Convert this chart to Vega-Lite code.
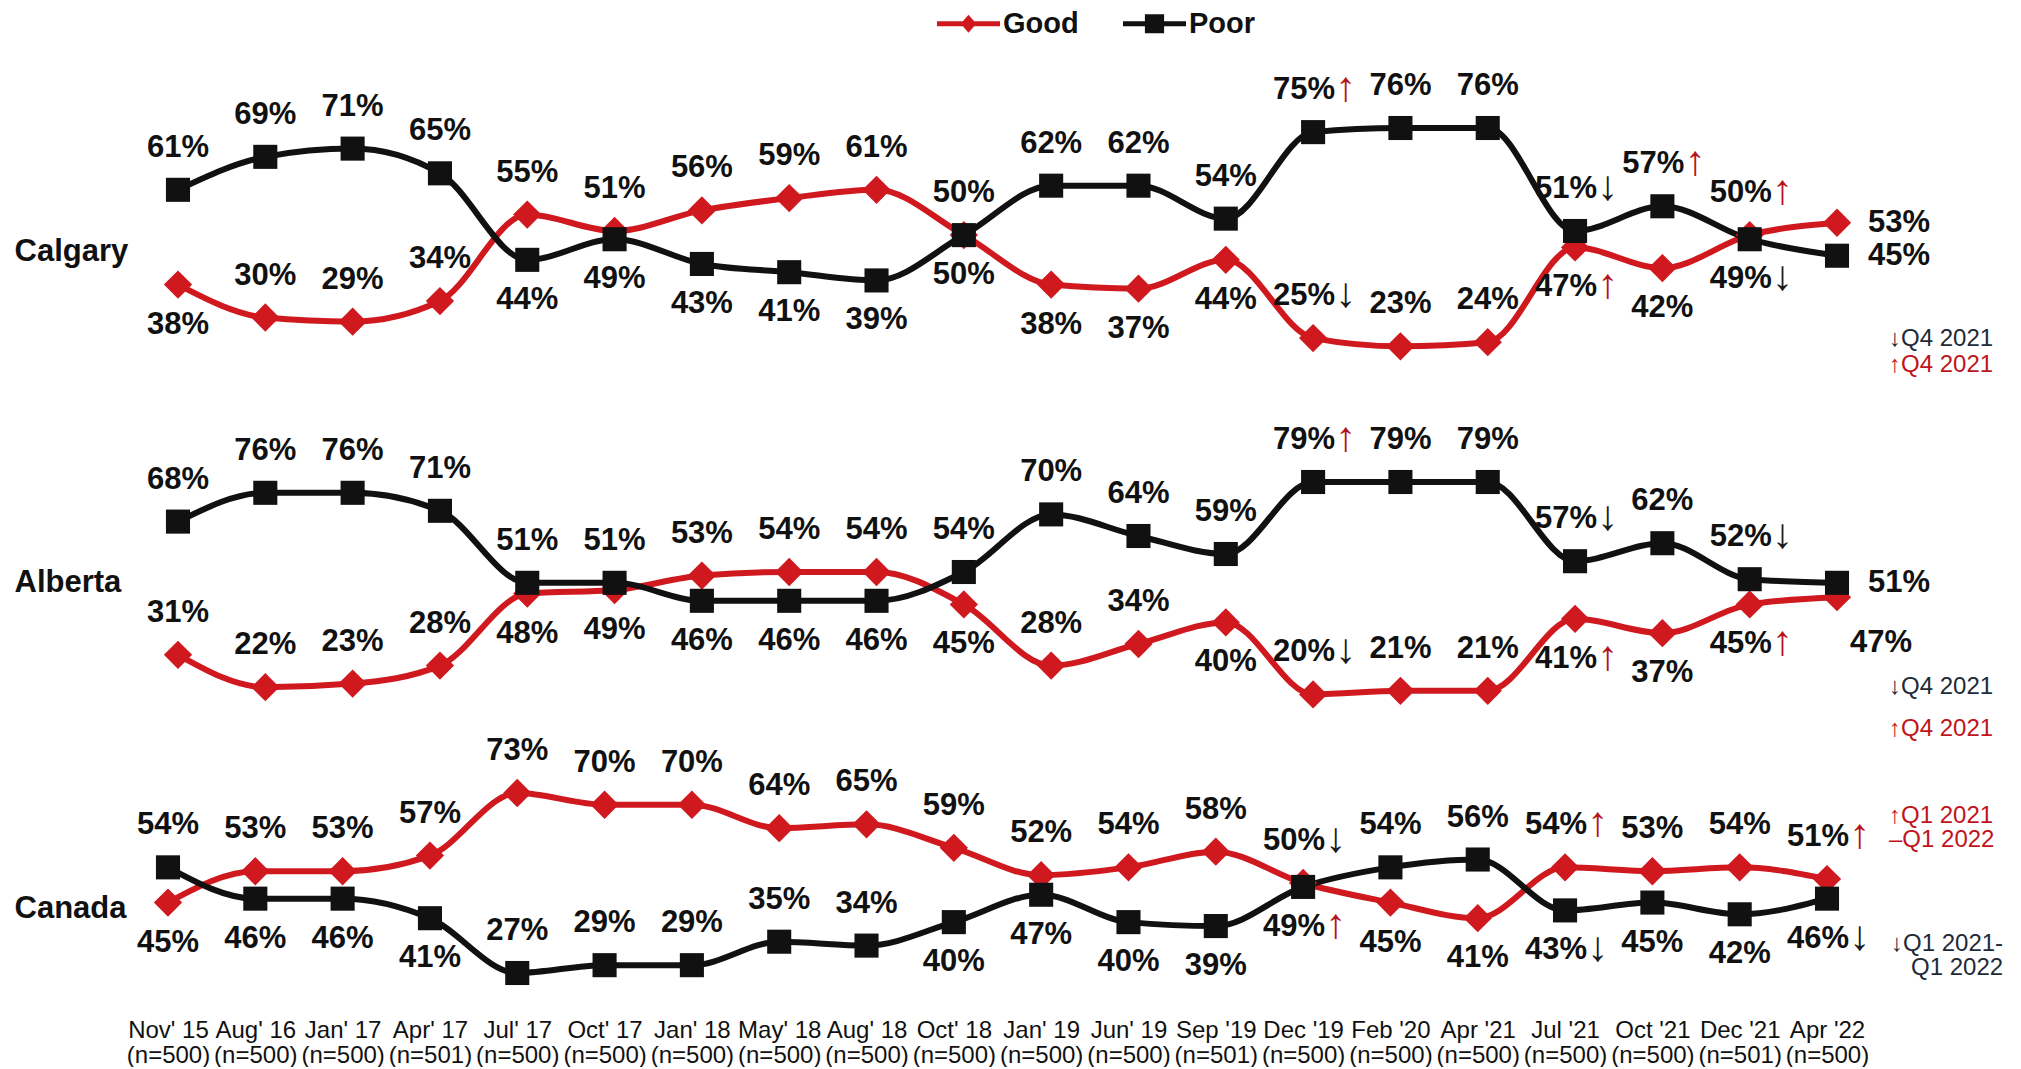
{
  "$schema": "https://vega.github.io/schema/vega-lite/v6.json",
  "padding": {"left": 14, "top": 9, "right": 5, "bottom": 0},
  "background": "white",
  "spacing": 0,
  "bounds": "flush",
  "config": {"view": {"stroke": null}, "font": "Liberation Sans"},
  "resolve": {"scale": {"x": "independent", "y": "independent"}},
  "data": {"values": [
    {"panel":"Calgary","wave":"Nov' 15 (n=500)","series":"Good","value":38},
    {"panel":"Calgary","wave":"Nov' 15 (n=500)","series":"Poor","value":61},
    {"panel":"Calgary","wave":"Aug' 16 (n=500)","series":"Good","value":30},
    {"panel":"Calgary","wave":"Aug' 16 (n=500)","series":"Poor","value":69},
    {"panel":"Calgary","wave":"Jan' 17 (n=500)","series":"Good","value":29},
    {"panel":"Calgary","wave":"Jan' 17 (n=500)","series":"Poor","value":71},
    {"panel":"Calgary","wave":"Apr' 17 (n=501)","series":"Good","value":34},
    {"panel":"Calgary","wave":"Apr' 17 (n=501)","series":"Poor","value":65},
    {"panel":"Calgary","wave":"Jul' 17 (n=500)","series":"Good","value":55},
    {"panel":"Calgary","wave":"Jul' 17 (n=500)","series":"Poor","value":44},
    {"panel":"Calgary","wave":"Oct' 17 (n=500)","series":"Good","value":51},
    {"panel":"Calgary","wave":"Oct' 17 (n=500)","series":"Poor","value":49},
    {"panel":"Calgary","wave":"Jan' 18 (n=500)","series":"Good","value":56},
    {"panel":"Calgary","wave":"Jan' 18 (n=500)","series":"Poor","value":43},
    {"panel":"Calgary","wave":"May' 18 (n=500)","series":"Good","value":59},
    {"panel":"Calgary","wave":"May' 18 (n=500)","series":"Poor","value":41},
    {"panel":"Calgary","wave":"Aug' 18 (n=500)","series":"Good","value":61},
    {"panel":"Calgary","wave":"Aug' 18 (n=500)","series":"Poor","value":39},
    {"panel":"Calgary","wave":"Oct' 18 (n=500)","series":"Good","value":50},
    {"panel":"Calgary","wave":"Oct' 18 (n=500)","series":"Poor","value":50},
    {"panel":"Calgary","wave":"Jan' 19 (n=500)","series":"Good","value":38},
    {"panel":"Calgary","wave":"Jan' 19 (n=500)","series":"Poor","value":62},
    {"panel":"Calgary","wave":"Jun' 19 (n=500)","series":"Good","value":37},
    {"panel":"Calgary","wave":"Jun' 19 (n=500)","series":"Poor","value":62},
    {"panel":"Calgary","wave":"Sep '19 (n=501)","series":"Good","value":44},
    {"panel":"Calgary","wave":"Sep '19 (n=501)","series":"Poor","value":54},
    {"panel":"Calgary","wave":"Dec '19 (n=500)","series":"Good","value":25,"sig":"↓"},
    {"panel":"Calgary","wave":"Dec '19 (n=500)","series":"Poor","value":75,"sig":"↑"},
    {"panel":"Calgary","wave":"Feb '20 (n=500)","series":"Good","value":23},
    {"panel":"Calgary","wave":"Feb '20 (n=500)","series":"Poor","value":76},
    {"panel":"Calgary","wave":"Apr '21 (n=500)","series":"Good","value":24},
    {"panel":"Calgary","wave":"Apr '21 (n=500)","series":"Poor","value":76},
    {"panel":"Calgary","wave":"Jul '21 (n=500)","series":"Good","value":47,"sig":"↑"},
    {"panel":"Calgary","wave":"Jul '21 (n=500)","series":"Poor","value":51,"sig":"↓"},
    {"panel":"Calgary","wave":"Oct '21 (n=500)","series":"Good","value":42},
    {"panel":"Calgary","wave":"Oct '21 (n=500)","series":"Poor","value":57,"sig":"↑"},
    {"panel":"Calgary","wave":"Dec '21 (n=501)","series":"Good","value":50,"sig":"↑"},
    {"panel":"Calgary","wave":"Dec '21 (n=501)","series":"Poor","value":49,"sig":"↓"},
    {"panel":"Calgary","wave":"Apr '22 (n=500)","series":"Good","value":53},
    {"panel":"Calgary","wave":"Apr '22 (n=500)","series":"Poor","value":45},
    {"panel":"Alberta","wave":"Nov' 15 (n=500)","series":"Good","value":31},
    {"panel":"Alberta","wave":"Nov' 15 (n=500)","series":"Poor","value":68},
    {"panel":"Alberta","wave":"Aug' 16 (n=500)","series":"Good","value":22},
    {"panel":"Alberta","wave":"Aug' 16 (n=500)","series":"Poor","value":76},
    {"panel":"Alberta","wave":"Jan' 17 (n=500)","series":"Good","value":23},
    {"panel":"Alberta","wave":"Jan' 17 (n=500)","series":"Poor","value":76},
    {"panel":"Alberta","wave":"Apr' 17 (n=501)","series":"Good","value":28},
    {"panel":"Alberta","wave":"Apr' 17 (n=501)","series":"Poor","value":71},
    {"panel":"Alberta","wave":"Jul' 17 (n=500)","series":"Good","value":48},
    {"panel":"Alberta","wave":"Jul' 17 (n=500)","series":"Poor","value":51},
    {"panel":"Alberta","wave":"Oct' 17 (n=500)","series":"Good","value":49},
    {"panel":"Alberta","wave":"Oct' 17 (n=500)","series":"Poor","value":51},
    {"panel":"Alberta","wave":"Jan' 18 (n=500)","series":"Good","value":53},
    {"panel":"Alberta","wave":"Jan' 18 (n=500)","series":"Poor","value":46},
    {"panel":"Alberta","wave":"May' 18 (n=500)","series":"Good","value":54},
    {"panel":"Alberta","wave":"May' 18 (n=500)","series":"Poor","value":46},
    {"panel":"Alberta","wave":"Aug' 18 (n=500)","series":"Good","value":54},
    {"panel":"Alberta","wave":"Aug' 18 (n=500)","series":"Poor","value":46},
    {"panel":"Alberta","wave":"Oct' 18 (n=500)","series":"Good","value":45},
    {"panel":"Alberta","wave":"Oct' 18 (n=500)","series":"Poor","value":54},
    {"panel":"Alberta","wave":"Jan' 19 (n=500)","series":"Good","value":28},
    {"panel":"Alberta","wave":"Jan' 19 (n=500)","series":"Poor","value":70},
    {"panel":"Alberta","wave":"Jun' 19 (n=500)","series":"Good","value":34},
    {"panel":"Alberta","wave":"Jun' 19 (n=500)","series":"Poor","value":64},
    {"panel":"Alberta","wave":"Sep '19 (n=501)","series":"Good","value":40},
    {"panel":"Alberta","wave":"Sep '19 (n=501)","series":"Poor","value":59},
    {"panel":"Alberta","wave":"Dec '19 (n=500)","series":"Good","value":20,"sig":"↓"},
    {"panel":"Alberta","wave":"Dec '19 (n=500)","series":"Poor","value":79,"sig":"↑"},
    {"panel":"Alberta","wave":"Feb '20 (n=500)","series":"Good","value":21},
    {"panel":"Alberta","wave":"Feb '20 (n=500)","series":"Poor","value":79},
    {"panel":"Alberta","wave":"Apr '21 (n=500)","series":"Good","value":21},
    {"panel":"Alberta","wave":"Apr '21 (n=500)","series":"Poor","value":79},
    {"panel":"Alberta","wave":"Jul '21 (n=500)","series":"Good","value":41,"sig":"↑"},
    {"panel":"Alberta","wave":"Jul '21 (n=500)","series":"Poor","value":57,"sig":"↓"},
    {"panel":"Alberta","wave":"Oct '21 (n=500)","series":"Good","value":37},
    {"panel":"Alberta","wave":"Oct '21 (n=500)","series":"Poor","value":62},
    {"panel":"Alberta","wave":"Dec '21 (n=501)","series":"Good","value":45,"sig":"↑"},
    {"panel":"Alberta","wave":"Dec '21 (n=501)","series":"Poor","value":52,"sig":"↓"},
    {"panel":"Alberta","wave":"Apr '22 (n=500)","series":"Good","value":47},
    {"panel":"Alberta","wave":"Apr '22 (n=500)","series":"Poor","value":51},
    {"panel":"Canada","wave":"Nov' 15 (n=500)","series":"Good","value":45},
    {"panel":"Canada","wave":"Nov' 15 (n=500)","series":"Poor","value":54},
    {"panel":"Canada","wave":"Aug' 16 (n=500)","series":"Good","value":53},
    {"panel":"Canada","wave":"Aug' 16 (n=500)","series":"Poor","value":46},
    {"panel":"Canada","wave":"Jan' 17 (n=500)","series":"Good","value":53},
    {"panel":"Canada","wave":"Jan' 17 (n=500)","series":"Poor","value":46},
    {"panel":"Canada","wave":"Apr' 17 (n=501)","series":"Good","value":57},
    {"panel":"Canada","wave":"Apr' 17 (n=501)","series":"Poor","value":41},
    {"panel":"Canada","wave":"Jul' 17 (n=500)","series":"Good","value":73},
    {"panel":"Canada","wave":"Jul' 17 (n=500)","series":"Poor","value":27},
    {"panel":"Canada","wave":"Oct' 17 (n=500)","series":"Good","value":70},
    {"panel":"Canada","wave":"Oct' 17 (n=500)","series":"Poor","value":29},
    {"panel":"Canada","wave":"Jan' 18 (n=500)","series":"Good","value":70},
    {"panel":"Canada","wave":"Jan' 18 (n=500)","series":"Poor","value":29},
    {"panel":"Canada","wave":"May' 18 (n=500)","series":"Good","value":64},
    {"panel":"Canada","wave":"May' 18 (n=500)","series":"Poor","value":35},
    {"panel":"Canada","wave":"Aug' 18 (n=500)","series":"Good","value":65},
    {"panel":"Canada","wave":"Aug' 18 (n=500)","series":"Poor","value":34},
    {"panel":"Canada","wave":"Oct' 18 (n=500)","series":"Good","value":59},
    {"panel":"Canada","wave":"Oct' 18 (n=500)","series":"Poor","value":40},
    {"panel":"Canada","wave":"Jan' 19 (n=500)","series":"Good","value":52},
    {"panel":"Canada","wave":"Jan' 19 (n=500)","series":"Poor","value":47},
    {"panel":"Canada","wave":"Jun' 19 (n=500)","series":"Good","value":54},
    {"panel":"Canada","wave":"Jun' 19 (n=500)","series":"Poor","value":40},
    {"panel":"Canada","wave":"Sep '19 (n=501)","series":"Good","value":58},
    {"panel":"Canada","wave":"Sep '19 (n=501)","series":"Poor","value":39},
    {"panel":"Canada","wave":"Dec '19 (n=500)","series":"Good","value":50,"sig":"↓"},
    {"panel":"Canada","wave":"Dec '19 (n=500)","series":"Poor","value":49,"sig":"↑"},
    {"panel":"Canada","wave":"Feb '20 (n=500)","series":"Good","value":45},
    {"panel":"Canada","wave":"Feb '20 (n=500)","series":"Poor","value":54},
    {"panel":"Canada","wave":"Apr '21 (n=500)","series":"Good","value":41},
    {"panel":"Canada","wave":"Apr '21 (n=500)","series":"Poor","value":56},
    {"panel":"Canada","wave":"Jul '21 (n=500)","series":"Good","value":54,"sig":"↑"},
    {"panel":"Canada","wave":"Jul '21 (n=500)","series":"Poor","value":43,"sig":"↓"},
    {"panel":"Canada","wave":"Oct '21 (n=500)","series":"Good","value":53},
    {"panel":"Canada","wave":"Oct '21 (n=500)","series":"Poor","value":45},
    {"panel":"Canada","wave":"Dec '21 (n=501)","series":"Good","value":54},
    {"panel":"Canada","wave":"Dec '21 (n=501)","series":"Poor","value":42},
    {"panel":"Canada","wave":"Apr '22 (n=500)","series":"Good","value":51,"sig":"↑"},
    {"panel":"Canada","wave":"Apr '22 (n=500)","series":"Poor","value":46,"sig":"↓"}
  ]},
  "transform": [
    {"joinaggregate": [{"op": "max", "field": "value", "as": "vmax"}, {"op": "min", "field": "value", "as": "vmin"}], "groupby": ["panel", "wave"]},
    {"window": [{"op": "row_number", "as": "rk"}], "sort": [{"field": "value", "order": "descending"}], "groupby": ["panel", "wave"]},
    {"calculate": "datum.value + '%'", "as": "lbl"},
    {"calculate": "datum.wave === \"Apr '22 (n=500)\"", "as": "last"},
    {"calculate": "datum.sig ? true : false", "as": "hasSig"},
    {"calculate": "(datum.last && datum.panel !== 'Canada') ? ((datum.rk === 1 || datum.vmax - datum.vmin >= 6) ? 'right' : 'belowright') : ((datum.rk === 1 || datum.vmax - datum.vmin >= 28) ? 'above' : 'below')", "as": "place"}
  ],
  "vconcat": [
    {
      "width": 1739, "height": 340,
      "transform": [{"filter": "datum.panel === 'Calgary'"}],
      "encoding": {
        "x": {"field": "wave", "type": "nominal", "scale": {"type": "point", "padding": 0.458, "domain": ["Nov' 15 (n=500)","Aug' 16 (n=500)","Jan' 17 (n=500)","Apr' 17 (n=501)","Jul' 17 (n=500)","Oct' 17 (n=500)","Jan' 18 (n=500)","May' 18 (n=500)","Aug' 18 (n=500)","Oct' 18 (n=500)","Jan' 19 (n=500)","Jun' 19 (n=500)","Sep '19 (n=501)","Dec '19 (n=500)","Feb '20 (n=500)","Apr '21 (n=500)","Jul '21 (n=500)","Oct '21 (n=500)","Dec '21 (n=501)","Apr '22 (n=500)"]}, "axis": null},
        "y": {"field": "value", "type": "quantitative", "scale": {"domain": [7.55, 90.08], "nice": false, "zero": false},
          "axis": {"title": "Calgary", "titleAngle": 0, "titleAlign": "left", "titleBaseline": "middle", "titleX": -124, "titleY": 181, "titleFont": "Liberation Sans", "titleFontSize": 31, "titleFontWeight": "bold", "titleColor": "#111111", "labels": false, "ticks": false, "domain": false, "grid": false}}
      },
      "layer": [
        {"transform": [{"filter": "datum.rk === 99"}], "mark": {"type": "point", "filled": true, "opacity": 1, "strokeWidth": 0},
         "encoding": {
           "color": {"field": "series", "type": "nominal", "scale": {"domain": ["Good", "Poor"], "range": ["#d0191f", "#111111"]},
             "legend": {"title": null, "orient": "none", "legendX": 816, "legendY": -61, "direction": "horizontal", "padding": 0, "offset": 0,
               "labelFont": "Liberation Sans", "labelFontSize": 29, "labelFontWeight": "bold", "labelColor": "#111111", "labelOffset": 20, "columnPadding": 44, "symbolSize": 144, "symbolStrokeWidth": 0}},
           "shape": {"field": "series", "type": "nominal", "scale": {"domain": ["Good", "Poor"], "range": ["M-5.25,-0.42 L-0.94,-0.42 L0,-1.5 L0.94,-0.42 L5.25,-0.42 L5.25,0.42 L0.94,0.42 L0,1.5 L-0.94,0.42 L-5.25,0.42 Z", "M-5.25,-0.42 L-1.6,-0.42 L-1.6,-1.6 L1.6,-1.6 L1.6,-0.42 L5.25,-0.42 L5.25,0.42 L1.6,0.42 L1.6,1.6 L-1.6,1.6 L-1.6,0.42 L-5.25,0.42 Z"]}}}},
        {"mark": {"type": "line", "interpolate": "monotone", "strokeWidth": 6},
         "encoding": {"detail": {"field": "series"}, "color": {"condition": {"test": "datum.series === 'Good'", "value": "#d0191f"}, "value": "#111111"}}},
        {"mark": {"type": "point", "filled": true, "opacity": 1},
         "encoding": {
           "color": {"condition": {"test": "datum.series === 'Good'", "value": "#d0191f"}, "value": "#111111"},
           "shape": {"condition": {"test": "datum.series === 'Good'", "value": "diamond"}, "value": "square"},
           "size": {"condition": {"test": "datum.series === 'Good'", "value": 800}, "value": 580}}},
        {"transform": [{"filter": "datum.place === 'above' && !datum.hasSig"}], "mark": {"type": "text", "fontSize": 31, "fontWeight": "bold", "color": "#111111", "align": "center", "baseline": "alphabetic", "dy": -33}, "encoding": {"text": {"field": "lbl"}}},
        {"transform": [{"filter": "datum.place === 'above' && datum.hasSig"}], "mark": {"type": "text", "fontSize": 31, "fontWeight": "bold", "color": "#111111", "align": "center", "baseline": "alphabetic", "dy": -33, "dx": -9}, "encoding": {"text": {"field": "lbl"}}},
        {"transform": [{"filter": "datum.place === 'below' && !datum.hasSig"}], "mark": {"type": "text", "fontSize": 31, "fontWeight": "bold", "color": "#111111", "align": "center", "baseline": "alphabetic", "dy": 49}, "encoding": {"text": {"field": "lbl"}}},
        {"transform": [{"filter": "datum.place === 'below' && datum.hasSig"}], "mark": {"type": "text", "fontSize": 31, "fontWeight": "bold", "color": "#111111", "align": "center", "baseline": "alphabetic", "dy": 49, "dx": -9}, "encoding": {"text": {"field": "lbl"}}},
        {"transform": [{"filter": "datum.place === 'right'"}], "mark": {"type": "text", "fontSize": 31, "fontWeight": "bold", "color": "#111111", "align": "left", "baseline": "middle", "dx": 31}, "encoding": {"text": {"field": "lbl"}}},
        {"transform": [{"filter": "datum.place === 'belowright'"}], "mark": {"type": "text", "fontSize": 31, "fontWeight": "bold", "color": "#111111", "align": "left", "baseline": "middle", "dx": 13, "dy": 46}, "encoding": {"text": {"field": "lbl"}}},
        {"transform": [{"filter": "datum.hasSig && datum.place === 'above'"}], "mark": {"type": "text", "fontSize": 42, "align": "left", "baseline": "alphabetic", "dx": 22, "dy": -31}, "encoding": {"text": {"field": "sig"}, "color": {"condition": {"test": "datum.sig === '↑'", "value": "#b5121b"}, "value": "#1a1a1a"}}},
        {"transform": [{"filter": "datum.hasSig && datum.place === 'below'"}], "mark": {"type": "text", "fontSize": 42, "align": "left", "baseline": "alphabetic", "dx": 22, "dy": 51}, "encoding": {"text": {"field": "sig"}, "color": {"condition": {"test": "datum.sig === '↑'", "value": "#b5121b"}, "value": "#1a1a1a"}}},
        {"transform": [{"filter": "datum.last && datum.rk === 1"}], "mark": {"type": "text", "text": "↓Q4 2021", "fontSize": 24, "align": "left", "baseline": "middle", "dx": 52, "color": "#1e2a36"}, "encoding": {"y": {"datum": 24.8}}},
        {"transform": [{"filter": "datum.last && datum.rk === 1"}], "mark": {"type": "text", "text": "↑Q4 2021", "fontSize": 24, "align": "left", "baseline": "middle", "dx": 52, "color": "#c0141c"}, "encoding": {"y": {"datum": 18.4}}}
      ]
    },
    {
      "width": 1739, "height": 340,
      "transform": [{"filter": "datum.panel === 'Alberta'"}],
      "encoding": {
        "x": {"field": "wave", "type": "nominal", "scale": {"type": "point", "padding": 0.458, "domain": ["Nov' 15 (n=500)","Aug' 16 (n=500)","Jan' 17 (n=500)","Apr' 17 (n=501)","Jul' 17 (n=500)","Oct' 17 (n=500)","Jan' 18 (n=500)","May' 18 (n=500)","Aug' 18 (n=500)","Oct' 18 (n=500)","Jan' 19 (n=500)","Jun' 19 (n=500)","Sep '19 (n=501)","Dec '19 (n=500)","Feb '20 (n=500)","Apr '21 (n=500)","Jul '21 (n=500)","Oct '21 (n=500)","Dec '21 (n=501)","Apr '22 (n=500)"]}, "axis": null},
        "y": {"field": "value", "type": "quantitative", "scale": {"domain": [4.56, 99], "nice": false, "zero": false},
          "axis": {"title": "Alberta", "titleAngle": 0, "titleAlign": "left", "titleBaseline": "middle", "titleX": -124, "titleY": 172, "titleFont": "Liberation Sans", "titleFontSize": 31, "titleFontWeight": "bold", "titleColor": "#111111", "labels": false, "ticks": false, "domain": false, "grid": false}}
      },
      "layer": [
        {"mark": {"type": "line", "interpolate": "monotone", "strokeWidth": 6},
         "encoding": {"detail": {"field": "series"}, "color": {"condition": {"test": "datum.series === 'Good'", "value": "#d0191f"}, "value": "#111111"}}},
        {"mark": {"type": "point", "filled": true, "opacity": 1},
         "encoding": {
           "color": {"condition": {"test": "datum.series === 'Good'", "value": "#d0191f"}, "value": "#111111"},
           "shape": {"condition": {"test": "datum.series === 'Good'", "value": "diamond"}, "value": "square"},
           "size": {"condition": {"test": "datum.series === 'Good'", "value": 800}, "value": 580}}},
        {"transform": [{"filter": "datum.place === 'above' && !datum.hasSig"}], "mark": {"type": "text", "fontSize": 31, "fontWeight": "bold", "color": "#111111", "align": "center", "baseline": "alphabetic", "dy": -33}, "encoding": {"text": {"field": "lbl"}}},
        {"transform": [{"filter": "datum.place === 'above' && datum.hasSig"}], "mark": {"type": "text", "fontSize": 31, "fontWeight": "bold", "color": "#111111", "align": "center", "baseline": "alphabetic", "dy": -33, "dx": -9}, "encoding": {"text": {"field": "lbl"}}},
        {"transform": [{"filter": "datum.place === 'below' && !datum.hasSig"}], "mark": {"type": "text", "fontSize": 31, "fontWeight": "bold", "color": "#111111", "align": "center", "baseline": "alphabetic", "dy": 49}, "encoding": {"text": {"field": "lbl"}}},
        {"transform": [{"filter": "datum.place === 'below' && datum.hasSig"}], "mark": {"type": "text", "fontSize": 31, "fontWeight": "bold", "color": "#111111", "align": "center", "baseline": "alphabetic", "dy": 49, "dx": -9}, "encoding": {"text": {"field": "lbl"}}},
        {"transform": [{"filter": "datum.place === 'right'"}], "mark": {"type": "text", "fontSize": 31, "fontWeight": "bold", "color": "#111111", "align": "left", "baseline": "middle", "dx": 31}, "encoding": {"text": {"field": "lbl"}}},
        {"transform": [{"filter": "datum.place === 'belowright'"}], "mark": {"type": "text", "fontSize": 31, "fontWeight": "bold", "color": "#111111", "align": "left", "baseline": "middle", "dx": 13, "dy": 46}, "encoding": {"text": {"field": "lbl"}}},
        {"transform": [{"filter": "datum.hasSig && datum.place === 'above'"}], "mark": {"type": "text", "fontSize": 42, "align": "left", "baseline": "alphabetic", "dx": 22, "dy": -31}, "encoding": {"text": {"field": "sig"}, "color": {"condition": {"test": "datum.sig === '↑'", "value": "#b5121b"}, "value": "#1a1a1a"}}},
        {"transform": [{"filter": "datum.hasSig && datum.place === 'below'"}], "mark": {"type": "text", "fontSize": 42, "align": "left", "baseline": "alphabetic", "dx": 22, "dy": 51}, "encoding": {"text": {"field": "sig"}, "color": {"condition": {"test": "datum.sig === '↑'", "value": "#b5121b"}, "value": "#1a1a1a"}}},
        {"transform": [{"filter": "datum.last && datum.rk === 1"}], "mark": {"type": "text", "text": "↓Q4 2021", "fontSize": 24, "align": "left", "baseline": "middle", "dx": 52, "color": "#1e2a36"}, "encoding": {"y": {"datum": 22.1}}},
        {"transform": [{"filter": "datum.last && datum.rk === 1"}], "mark": {"type": "text", "text": "↑Q4 2021", "fontSize": 24, "align": "left", "baseline": "middle", "dx": 52, "color": "#c0141c"}, "encoding": {"y": {"datum": 10.5}}}
      ]
    },
    {
      "width": 1739, "height": 250,
      "transform": [{"filter": "datum.panel === 'Canada'"}],
      "encoding": {
        "x": {"field": "wave", "type": "nominal", "scale": {"type": "point", "padding": 0.458, "range": [-10, 1729], "domain": ["Nov' 15 (n=500)","Aug' 16 (n=500)","Jan' 17 (n=500)","Apr' 17 (n=501)","Jul' 17 (n=500)","Oct' 17 (n=500)","Jan' 18 (n=500)","May' 18 (n=500)","Aug' 18 (n=500)","Oct' 18 (n=500)","Jan' 19 (n=500)","Jun' 19 (n=500)","Sep '19 (n=501)","Dec '19 (n=500)","Feb '20 (n=500)","Apr '21 (n=500)","Jul '21 (n=500)","Oct '21 (n=500)","Dec '21 (n=501)","Apr '22 (n=500)"]},
          "axis": {"title": null, "labelAngle": 0, "labelFont": "Liberation Sans", "labelFontSize": 24, "labelColor": "#111111", "labelPadding": 18, "labelLineHeight": 25, "labelBaseline": "top", "labelOverlap": false, "labelBound": false, "ticks": false, "domain": false, "grid": false,
            "labelExpr": "[slice(datum.value, 0, indexof(datum.value, ' (')), slice(datum.value, indexof(datum.value, ' (') + 1)]"}},
        "y": {"field": "value", "type": "quantitative", "scale": {"domain": [20.1, 83.99], "nice": false, "zero": false},
          "axis": {"title": "Canada", "titleAngle": 0, "titleAlign": "left", "titleBaseline": "middle", "titleX": -124, "titleY": 158, "titleFont": "Liberation Sans", "titleFontSize": 31, "titleFontWeight": "bold", "titleColor": "#111111", "labels": false, "ticks": false, "domain": false, "grid": false}}
      },
      "layer": [
        {"mark": {"type": "line", "interpolate": "monotone", "strokeWidth": 6},
         "encoding": {"detail": {"field": "series"}, "color": {"condition": {"test": "datum.series === 'Good'", "value": "#d0191f"}, "value": "#111111"}}},
        {"mark": {"type": "point", "filled": true, "opacity": 1},
         "encoding": {
           "color": {"condition": {"test": "datum.series === 'Good'", "value": "#d0191f"}, "value": "#111111"},
           "shape": {"condition": {"test": "datum.series === 'Good'", "value": "diamond"}, "value": "square"},
           "size": {"condition": {"test": "datum.series === 'Good'", "value": 800}, "value": 580}}},
        {"transform": [{"filter": "datum.place === 'above' && !datum.hasSig"}], "mark": {"type": "text", "fontSize": 31, "fontWeight": "bold", "color": "#111111", "align": "center", "baseline": "alphabetic", "dy": -33}, "encoding": {"text": {"field": "lbl"}}},
        {"transform": [{"filter": "datum.place === 'above' && datum.hasSig"}], "mark": {"type": "text", "fontSize": 31, "fontWeight": "bold", "color": "#111111", "align": "center", "baseline": "alphabetic", "dy": -33, "dx": -9}, "encoding": {"text": {"field": "lbl"}}},
        {"transform": [{"filter": "datum.place === 'below' && !datum.hasSig"}], "mark": {"type": "text", "fontSize": 31, "fontWeight": "bold", "color": "#111111", "align": "center", "baseline": "alphabetic", "dy": 49}, "encoding": {"text": {"field": "lbl"}}},
        {"transform": [{"filter": "datum.place === 'below' && datum.hasSig"}], "mark": {"type": "text", "fontSize": 31, "fontWeight": "bold", "color": "#111111", "align": "center", "baseline": "alphabetic", "dy": 49, "dx": -9}, "encoding": {"text": {"field": "lbl"}}},
        {"transform": [{"filter": "datum.hasSig && datum.place === 'above'"}], "mark": {"type": "text", "fontSize": 42, "align": "left", "baseline": "alphabetic", "dx": 22, "dy": -31}, "encoding": {"text": {"field": "sig"}, "color": {"condition": {"test": "datum.sig === '↑'", "value": "#b5121b"}, "value": "#1a1a1a"}}},
        {"transform": [{"filter": "datum.hasSig && datum.place === 'below'"}], "mark": {"type": "text", "fontSize": 42, "align": "left", "baseline": "alphabetic", "dx": 22, "dy": 51}, "encoding": {"text": {"field": "sig"}, "color": {"condition": {"test": "datum.sig === '↑'", "value": "#b5121b"}, "value": "#1a1a1a"}}},
        {"transform": [{"filter": "datum.last && datum.rk === 1"}], "mark": {"type": "text", "text": ["↑Q1 2021", "–Q1 2022"], "fontSize": 24, "lineHeight": 24, "align": "left", "baseline": "alphabetic", "dx": 62, "color": "#c0141c"}, "encoding": {"y": {"datum": 65.3}}},
        {"transform": [{"filter": "datum.last && datum.rk === 1"}], "mark": {"type": "text", "text": "↓Q1 2021-", "fontSize": 24, "align": "left", "baseline": "alphabetic", "dx": 64, "color": "#1e2a36"}, "encoding": {"y": {"datum": 32.6}}},
        {"transform": [{"filter": "datum.last && datum.rk === 1"}], "mark": {"type": "text", "text": "Q1 2022", "fontSize": 24, "align": "left", "baseline": "alphabetic", "dx": 84, "color": "#1e2a36"}, "encoding": {"y": {"datum": 26.5}}}
      ]
    }
  ]
}
